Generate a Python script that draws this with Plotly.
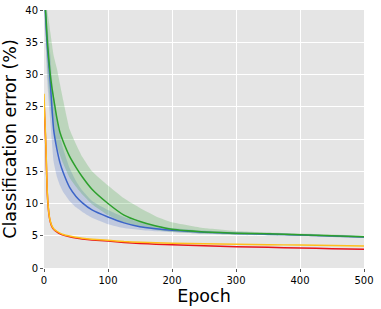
import plotly.graph_objects as go

epochs = [0, 1, 3, 5, 8, 10, 12, 15, 20, 25, 30, 40, 50, 60, 75, 100, 125, 150, 175, 200, 250, 300, 350, 400, 450, 500]

green_mean = [46, 42, 39, 35.5, 31.8, 29.8, 28.2, 26.3, 23.3, 21.0, 19.6, 17.3, 15.6, 14.1, 12.2, 10.0, 8.2, 7.2, 6.5, 6.0, 5.6, 5.4, 5.3, 5.15, 5.0, 4.85]
green_upper = [48, 44, 42, 40, 38, 36.5, 35, 33, 31, 28.5, 26, 21.5, 19.2, 17.2, 15.0, 12.8, 10.8, 9.3, 8.0, 7.1, 6.2, 5.75, 5.5, 5.35, 5.2, 5.05]
green_lower = [44, 40, 36, 31, 27, 25, 23.5, 21.5, 19, 17.5, 16.2, 14.0, 12.6, 11.4, 9.9, 8.2, 7.0, 6.4, 5.9, 5.6, 5.3, 5.1, 5.05, 4.95, 4.8, 4.65]

blue_mean = [45, 42, 38, 34.5, 31, 28.5, 25.5, 21.5, 18.5, 16.3, 14.8, 12.5, 11.1, 10.1, 9.0, 7.9, 7.0, 6.4, 6.1, 5.85, 5.55, 5.35, 5.25, 5.1, 4.95, 4.8]
blue_upper = [47, 44, 41, 38, 35, 33, 30, 27, 23.5, 20.5, 18.5, 15.5, 13.5, 12.0, 10.4, 9.0, 7.9, 7.1, 6.6, 6.2, 5.8, 5.55, 5.45, 5.25, 5.1, 4.95]
blue_lower = [43, 38, 34, 29, 25, 22.5, 20, 16.5, 14.2, 12.8, 11.8, 10.4, 9.4, 8.7, 7.8, 6.8, 6.2, 5.9, 5.7, 5.55, 5.3, 5.15, 5.05, 4.95, 4.8, 4.65]

yellow_mean = [27, 24, 19, 12, 8.2, 7.2, 6.6, 6.1, 5.7, 5.4, 5.2, 4.95, 4.75, 4.6, 4.45, 4.3, 4.1, 4.0, 3.9, 3.85, 3.75, 3.7, 3.62, 3.55, 3.48, 3.4]
red_mean = [26, 23.5, 18.5, 11.8, 8.1, 7.1, 6.5, 6.0, 5.6, 5.3, 5.1, 4.85, 4.65, 4.5, 4.35, 4.2, 3.95, 3.8, 3.7, 3.6, 3.45, 3.3, 3.2, 3.1, 3.0, 2.9]

x_ticks = [0, 100, 200, 300, 400, 500]
y_ticks = [0, 5, 10, 15, 20, 25, 30, 35, 40]

GREEN = "#2ca02c"
BLUE = "#3b64c8"
RED = "#e8141c"
YELLOW = "#ffbf1a"

fig = go.Figure()

def band(lower, upper, fillcolor):
    fig.add_trace(go.Scatter(x=epochs, y=lower, mode="lines", line=dict(width=0, shape="spline", smoothing=0.4),
                             showlegend=False, hoverinfo="skip"))
    fig.add_trace(go.Scatter(x=epochs, y=upper, mode="lines", line=dict(width=0, shape="spline", smoothing=0.4),
                             fill="tonexty", fillcolor=fillcolor, showlegend=False, hoverinfo="skip"))

band(blue_lower, blue_upper, "rgba(59,100,200,0.22)")
band(green_lower, green_upper, "rgba(44,160,44,0.22)")

for ys, col in [(blue_mean, BLUE), (green_mean, GREEN), (red_mean, RED), (yellow_mean, YELLOW)]:
    fig.add_trace(go.Scatter(x=epochs, y=ys, mode="lines",
                             line=dict(color=col, width=1.5, shape="spline", smoothing=0.4),
                             showlegend=False))

fig.update_layout(
    width=381, height=309,
    margin=dict(l=44, r=17, t=10, b=41),
    paper_bgcolor="white",
    plot_bgcolor="#e5e5e5",
    font=dict(family="DejaVu Sans", color="black"),
    showlegend=False,
)
fig.update_xaxes(range=[0, 500], tickvals=x_ticks, ticks="outside", ticklen=3, tickcolor="#555555",
                 showgrid=True, gridcolor="white", gridwidth=1, zeroline=False, showline=False,
                 tickfont=dict(size=10), title=dict(text="Epoch", font=dict(size=17.5), standoff=0),
                 automargin=False)
fig.update_yaxes(range=[0, 40], tickvals=y_ticks, ticks="outside", ticklen=3, tickcolor="#555555",
                 showgrid=True, gridcolor="white", gridwidth=1, zeroline=False, showline=False,
                 tickfont=dict(size=10), title=dict(text="Classification error (%)", font=dict(size=17.5), standoff=4),
                 automargin=False)

# remove the browser's default 8px body margin so the figure sits at the window's top-left corner
fig.write_html("out.html", config={"displayModeBar": False},
               post_script="document.body.style.margin='0px';")
